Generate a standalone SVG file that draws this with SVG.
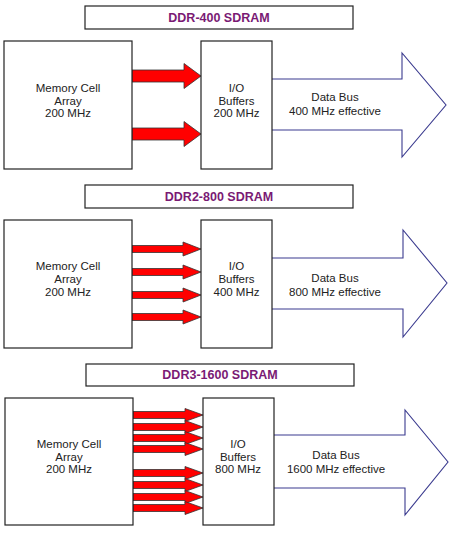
<svg xmlns="http://www.w3.org/2000/svg" xmlns:xlink="http://www.w3.org/1999/xlink" width="450" height="534" viewBox="0 0 450 534">
<style>
.box{fill:#fff;stroke:#222;stroke-width:1.2}
.title{fill:#fff;stroke:#222;stroke-width:1.2}
.tt{font-family:"Liberation Sans",Arial,sans-serif;font-weight:bold;font-size:12.5px;fill:#7a1a74;text-anchor:middle}
.lbl{font-family:"Liberation Sans",Arial,sans-serif;font-size:11.5px;fill:#222;text-anchor:middle}
.red{fill:#ff0000;stroke:#333;stroke-width:0.8}
.bus{fill:#fff;stroke:#3b3b8f;stroke-width:1.1}
</style>
<defs>
<path id="ra1" class="red" d="M0,-6 H52 V-12.5 L69,0 L52,12.5 V6 H0 Z"/>
<path id="ra2" class="red" d="M0,-3.5 H51 V-7 L69,0 L51,7 V3.5 H0 Z"/>
<path id="ra3" class="red" d="M0,-3.5 H52 V-6.5 L70,0 L52,6.5 V3.5 H0 Z"/>
</defs>
<rect width="450" height="534" fill="#fff"/>

<g id="title1"><rect class="title" x="85" y="6" width="268" height="23"/><text class="tt" x="219" y="22">DDR-400 SDRAM</text></g>
<g id="title2"><rect class="title" x="85" y="185" width="268" height="23"/><text class="tt" x="219" y="201">DDR2-800 SDRAM</text></g>
<g id="title3"><rect class="title" x="86" y="364" width="268" height="22"/><text class="tt" x="220" y="379">DDR3-1600 SDRAM</text></g>

<g id="connectors">
<use xlink:href="#ra1" x="132" y="76"/>
<use xlink:href="#ra1" x="132" y="134"/>
<use xlink:href="#ra2" x="132" y="249"/>
<use xlink:href="#ra2" x="132" y="272"/>
<use xlink:href="#ra2" x="132" y="295"/>
<use xlink:href="#ra2" x="132" y="317"/>
<use xlink:href="#ra3" x="133" y="415"/>
<use xlink:href="#ra3" x="133" y="427"/>
<use xlink:href="#ra3" x="133" y="438"/>
<use xlink:href="#ra3" x="133" y="449"/>
<use xlink:href="#ra3" x="133" y="473"/>
<use xlink:href="#ra3" x="133" y="485"/>
<use xlink:href="#ra3" x="133" y="497"/>
<use xlink:href="#ra3" x="133" y="508"/>
</g>

<g id="bus1"><path class="bus" d="M272,79 H402 V53 L446,105 L402,157 V130 H272"/>
<text class="lbl" x="335" y="101">Data Bus</text><text class="lbl" x="335" y="115">400 MHz effective</text></g>
<g id="bus2"><path class="bus" d="M272,258 H403 V230 L447,283 L403,337 V309 H272"/>
<text class="lbl" x="335" y="282">Data Bus</text><text class="lbl" x="335" y="296">800 MHz effective</text></g>
<g id="bus3"><path class="bus" d="M274,435 H405 V410 L448,462 L405,515 V488 H274"/>
<text class="lbl" x="336" y="459">Data Bus</text><text class="lbl" x="336" y="473">1600 MHz effective</text></g>

<g id="mem1"><rect class="box" x="4" y="41" width="128" height="128"/>
<text class="lbl" x="68" y="92">Memory Cell</text><text class="lbl" x="68" y="104.5">Array</text><text class="lbl" x="68" y="117">200 MHz</text></g>
<g id="io1"><rect class="box" x="201" y="41" width="71" height="128"/>
<text class="lbl" x="236.5" y="92">I/O</text><text class="lbl" x="236.5" y="104.5">Buffers</text><text class="lbl" x="236.5" y="117">200 MHz</text></g>

<g id="mem2"><rect class="box" x="4" y="220" width="128" height="128"/>
<text class="lbl" x="68" y="270">Memory Cell</text><text class="lbl" x="68" y="283">Array</text><text class="lbl" x="68" y="296">200 MHz</text></g>
<g id="io2"><rect class="box" x="201" y="220" width="71" height="128"/>
<text class="lbl" x="236.5" y="270">I/O</text><text class="lbl" x="236.5" y="283">Buffers</text><text class="lbl" x="236.5" y="296">400 MHz</text></g>

<g id="mem3"><rect class="box" x="5" y="398" width="128" height="127"/>
<text class="lbl" x="69" y="448">Memory Cell</text><text class="lbl" x="69" y="460.5">Array</text><text class="lbl" x="69" y="473">200 MHz</text></g>
<g id="io3"><rect class="box" x="203" y="398" width="71" height="127"/>
<text class="lbl" x="238" y="448">I/O</text><text class="lbl" x="238" y="460.5">Buffers</text><text class="lbl" x="238" y="473">800 MHz</text></g>
</svg>
